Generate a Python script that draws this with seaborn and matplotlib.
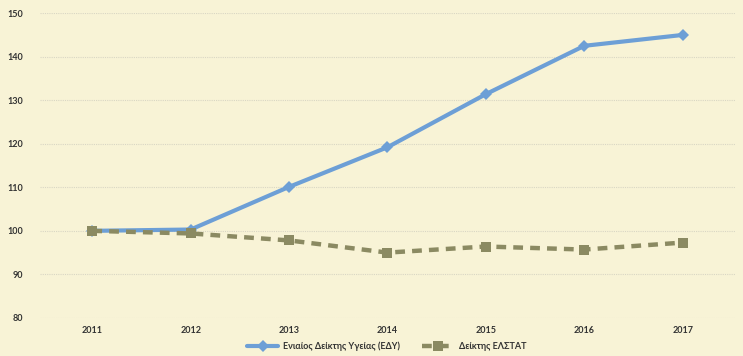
import matplotlib
matplotlib.use("Agg")
import matplotlib.pyplot as plt
import seaborn as sns

years = [2011, 2012, 2013, 2014, 2015, 2016, 2017]
edy = [100.0, 100.3, 110.1, 119.2, 131.4, 142.5, 145.0]
elstat = [100.0, 99.4, 97.8, 95.0, 96.4, 95.7, 97.3]
label_edy = "Ενιαίος Δείκτης Υγείας (ΕΔΥ)"
label_elstat = "Δείκτης ΕΛΣΤΑΤ"
yticks = [80, 90, 100, 110, 120, 130, 140, 150]

sns.set_theme(style="white")
plt.rcParams['font.family'] = ['Lato', 'DejaVu Sans']

bg = "#f8f3d6"
fig = plt.figure(figsize=(7.43, 3.56), dpi=100, facecolor=bg)
ax = fig.add_axes([0.054, 0.107, 0.935, 0.856], facecolor=bg)

pos = list(range(len(years)))
sns.lineplot(x=pos, y=edy, ax=ax, color="#6d9fd6", linewidth=3,
             marker="D", markersize=6, markeredgewidth=0, label=label_edy)
sns.lineplot(x=pos, y=elstat, ax=ax, color="#8b8a62", linewidth=3.2,
             linestyle=(0, (2.2, 1.6)), marker="s", markersize=7,
             markeredgewidth=0, label=label_elstat)

ax.set_xlim(-0.53, len(years) - 1 + 0.53)
ax.set_ylim(80, 150)
ax.set_yticks(yticks)
ax.set_xticks(pos)
ax.set_xticklabels([str(y) for y in years])
ax.grid(axis="y", color="#d9d6c4", linewidth=0.8, linestyle=(0, (1, 1)))
ax.grid(axis="x", visible=False)
for s in ax.spines.values():
    s.set_visible(False)
ax.tick_params(axis="both", length=0, labelsize=6.5, colors="#333333")
for t in ax.get_xticklabels() + ax.get_yticklabels():
    t.set_fontweight("bold")
ax.tick_params(axis="y", pad=12)
ax.tick_params(axis="x", pad=6)
ax.set_xlabel("")
ax.set_ylabel("")

handles, labels = ax.get_legend_handles_labels()
ax.get_legend().remove()
leg = fig.legend(handles, labels, loc="center", bbox_to_anchor=(0.52, 0.028), ncol=2,
                 frameon=False, fontsize=6.5, handlelength=3.5, columnspacing=2.5,
                 handletextpad=0.5)
for t in leg.get_texts():
    t.set_fontweight("bold")
    t.set_color("#333333")

fig.savefig("out.png", dpi=100, facecolor=bg)
